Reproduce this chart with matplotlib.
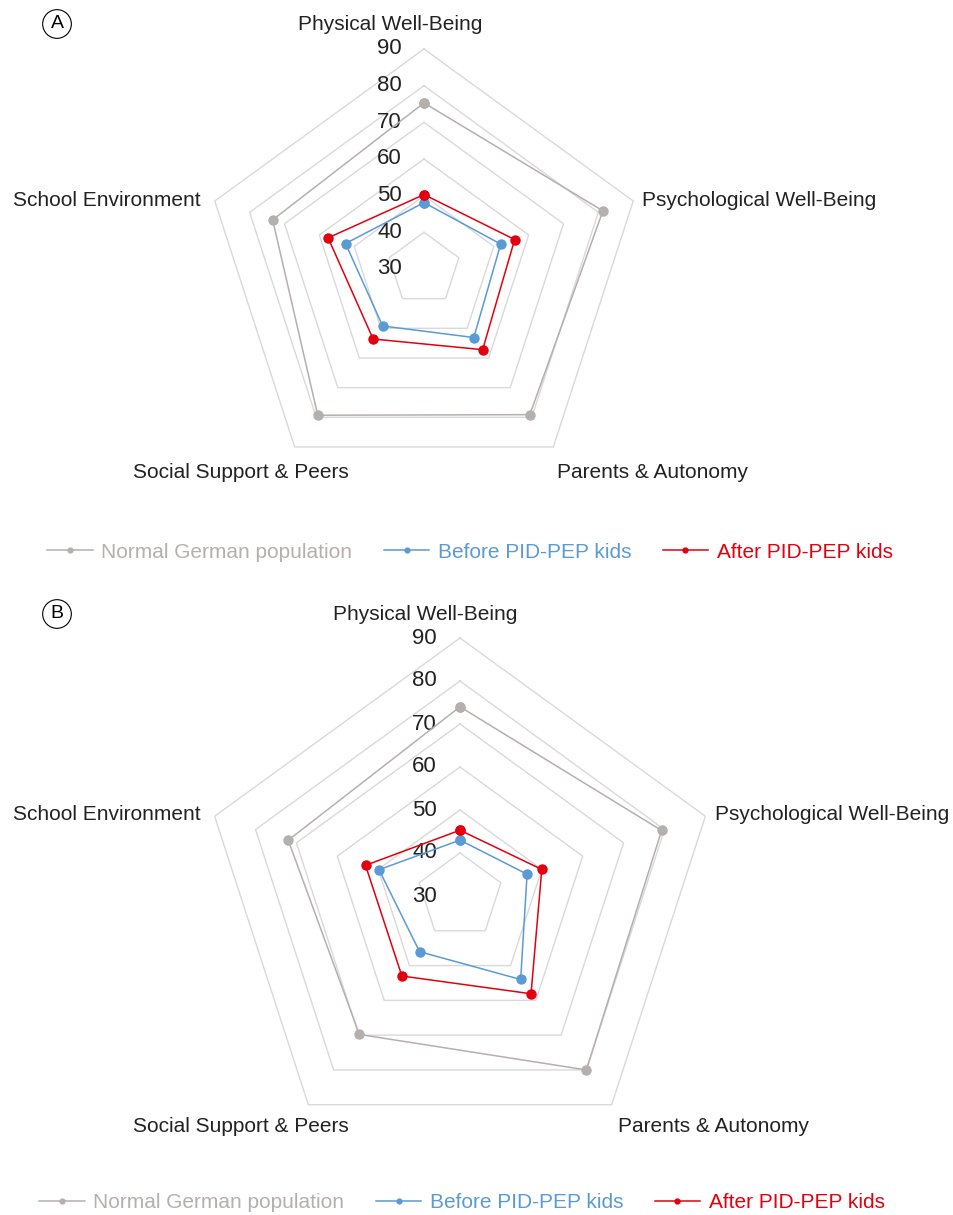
import numpy as np
import matplotlib.pyplot as plt

# Data
categories = ["Physical Well-Being", "Psychological Well-Being", "Parents & Autonomy",
              "Social Support & Peers", "School Environment"]
series_names = ["Normal German population", "Before PID-PEP kids", "After PID-PEP kids"]
ring_levels = [30, 40, 50, 60, 70, 80, 90]

normal_a = [75.3, 81.3, 79.1, 79.3, 73.4]
before_a = [48.1, 52.0, 53.1, 49.2, 52.5]
after_a = [50.3, 56.0, 57.2, 53.6, 57.5]

normal_b = [74.0, 79.3, 80.0, 69.8, 72.0]
before_b = [43.0, 46.4, 54.0, 46.0, 49.8]
after_b = [45.3, 50.0, 58.1, 53.0, 53.1]

colors = ["#b5afad", "#5b9bd5", "#e3000f"]
text_colors = ["#b5afad", "#5b9bd5", "#e3000f"]

W, H = 954, 1215
plt.rcParams['font.family'] = ['Liberation Sans', 'DejaVu Sans']
fig = plt.figure(figsize=(W / 100, H / 100), dpi=100)

vmin, vmax = 30, 90
theta = np.arange(len(categories)) * 2 * np.pi / len(categories)


def to_xy(vals):
    r = np.asarray(vals, dtype=float) - vmin
    x = r * np.sin(theta)
    y = r * np.cos(theta)
    return np.append(x, x[0]), np.append(y, y[0])


def fx(px):
    return px / W


def fy(py):
    return 1 - py / H


def panel(top, bottom, cx, cy, R, series, letter, label_pos, tick_x, legend_pos):
    ax = fig.add_axes([0, 1 - bottom / H, 1, (bottom - top) / H])
    s = R / (vmax - vmin)
    ax.set_xlim(-cx / s, (W - cx) / s)
    ax.set_ylim(-(bottom - cy) / s, (cy - top) / s)
    ax.axis('off')

    # pentagon grid
    for lev in ring_levels[1:]:
        gx, gy = to_xy([lev] * len(categories))
        ax.plot(gx, gy, color='#d9d9d9', lw=1.0, zorder=1)
    for lev in ring_levels:
        ax.text(tick_x, lev - vmin, str(lev), ha='right', va='center',
                fontsize=16, color='#222222', zorder=2)

    handles = []
    for vals, c, name in zip(series, colors, series_names):
        x, y = to_xy(vals)
        h, = ax.plot(x, y, color=c, lw=1.1, marker='o', markersize=7.5,
                     markeredgewidth=0, label=name, zorder=3)
        handles.append(h)

    for cat, (px, py, ha) in zip(categories, label_pos):
        fig.text(fx(px), fy(py), cat, ha=ha, va='center', fontsize=15, color='#222222')

    fig.text(fx(57), fy(top + 24), letter, ha='center', va='center', fontsize=14,
             bbox=dict(boxstyle='circle,pad=0.3', fc='white', ec='black', lw=0.8))

    leg = ax.legend(handles=handles, loc='center', bbox_to_anchor=(fx(legend_pos[0]), fy(legend_pos[1])),
                    bbox_transform=fig.transFigure, ncol=3, frameon=False, fontsize=15,
                    handlelength=2.2, handletextpad=0.4, columnspacing=1.5, markerscale=0.6)
    for t, c in zip(leg.get_texts(), text_colors):
        t.set_color(c)
    return ax


panel(0, 590, 424, 269, 220, [normal_a, before_a, after_a], "A",
      [(390, 24, 'center'), (642, 200, 'left'), (557, 473, 'left'),
       (349, 473, 'right'), (201, 200, 'right')],
      -22 * 60 / 220, (470, 552))

panel(590, 1215, 460, 896, 258, [normal_b, before_b, after_b], "B",
      [(425, 614, 'center'), (715, 814, 'left'), (618, 1127, 'left'),
       (349, 1127, 'right'), (201, 814, 'right')],
      -23 * 60 / 258, (462, 1203))

fig.savefig("out.png", dpi=100)
